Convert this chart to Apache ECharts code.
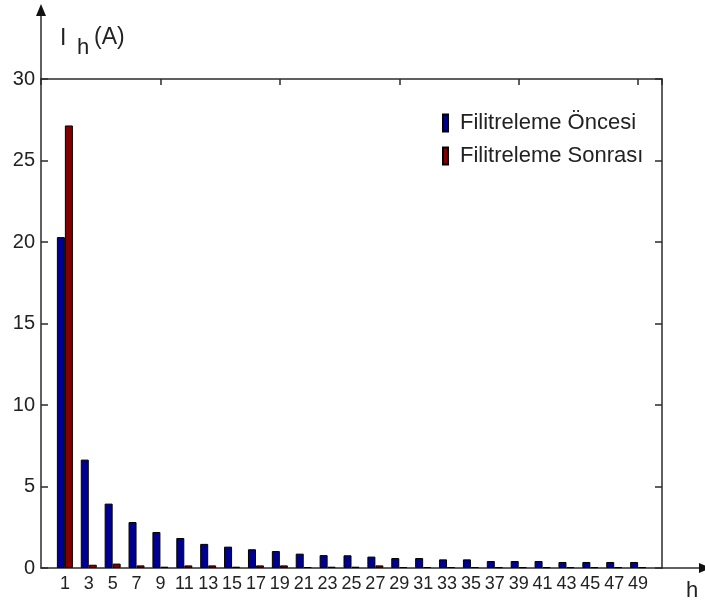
<!DOCTYPE html>
<html>
<head>
<meta charset="UTF-8">
<title>Ih (A)</title>
<script src="https://cdn.jsdelivr.net/npm/echarts@6/dist/echarts.min.js"></script>
<style>
  html, body { margin: 0; padding: 0; background: #fff; }
  #chart { width: 705px; height: 604px; }
</style>
</head>
<body>
<div id="chart"></div>
<script>
// harmonik numaralari (x ekseni etiketleri)
var harmonics = [1, 3, 5, 7, 9, 11, 13, 15, 17, 19, 21, 23, 25, 27, 29, 31, 33, 35, 37, 39, 41, 43, 45, 47, 49];
var seriesNames = ['Filitreleme Öncesi', 'Filitreleme Sonrası'];
// akim degerleri (A)
var oncesi = [20.3, 6.65, 3.95, 2.82, 2.21, 1.84, 1.48, 1.31, 1.15, 1.04, 0.88, 0.79, 0.78, 0.70, 0.61, 0.61, 0.53, 0.53, 0.43, 0.43, 0.43, 0.37, 0.37, 0.37, 0.37];
var sonrasi = [27.15, 0.2, 0.27, 0.16, 0.08, 0.16, 0.16, 0.08, 0.16, 0.16, 0.06, 0.08, 0.08, 0.16, 0.06, 0.06, 0.06, 0.06, 0.05, 0.05, 0.05, 0.05, 0.05, 0.05, 0.05];
var yTicks = [0, 5, 10, 15, 20, 25, 30];

var FONT = "'Liberation Sans', Arial, sans-serif";
var AXIS = '#2b2b2b';
var G = { left: 41, top: 79, right: 43, bottom: 36 };
var W = 705, H = 604;
var x0 = G.left, yb = H - G.bottom, xr = W - G.right;

function pairs(arr) {
	return arr.map(function (v, i) { return [i + 1, v]; });
}

var chart = echarts.init(document.getElementById('chart'));
var op = {
	animation: false,
	backgroundColor: '#fff',
	textStyle: { fontFamily: FONT },
	grid: { left: G.left, top: G.top, right: G.right, bottom: G.bottom },
	legend: {
		orient: 'vertical',
		left: 437,
		top: 107,
		icon: 'rect',
		itemWidth: 5,
		itemHeight: 17,
		itemGap: 11,
		data: seriesNames,
		textStyle: { fontSize: 22, color: '#222', fontFamily: FONT, padding: [0, 0, 0, 7] }
	},
	xAxis: [{
		type: 'value',
		min: 0,
		max: harmonics.length + 1,
		interval: 1,
		position: 'bottom',
		splitLine: { show: false },
		axisTick: { show: false },
		axisLine: { show: true, onZero: false, lineStyle: { color: AXIS, width: 1.5 } },
		axisLabel: {
			margin: 7,
			fontSize: 18,
			color: '#222',
			fontFamily: FONT,
			formatter: function (v) { return harmonics[v - 1] !== undefined ? String(harmonics[v - 1]) : ''; }
		}
	}, {
		type: 'value',
		min: 0,
		max: harmonics.length + 1,
		interval: 5,
		position: 'top',
		splitLine: { show: false },
		axisTick: { show: true, inside: true, length: 6, lineStyle: { color: AXIS, width: 1.5 } },
		axisLine: { show: true, onZero: false, lineStyle: { color: AXIS, width: 1.5 } },
		axisLabel: { show: false }
	}],
	yAxis: [{
		type: 'value',
		min: yTicks[0],
		max: yTicks[yTicks.length - 1],
		interval: 5,
		splitLine: { show: false },
		axisTick: { show: true, inside: true, length: 7, lineStyle: { color: AXIS, width: 1.5 } },
		axisLine: { show: true, onZero: false, lineStyle: { color: AXIS, width: 1.5 } },
		axisLabel: { margin: 6, fontSize: 20, color: '#222', fontFamily: FONT }
	}, {
		type: 'value',
		position: 'right',
		min: yTicks[0],
		max: yTicks[yTicks.length - 1],
		interval: 5,
		splitLine: { show: false },
		axisTick: { show: true, inside: true, length: 7, lineStyle: { color: AXIS, width: 1.5 } },
		axisLine: { show: true, onZero: false, lineStyle: { color: AXIS, width: 1.5 } },
		axisLabel: { show: false }
	}],
	series: [{
		name: seriesNames[0],
		type: 'bar',
		barWidth: 8,
		barGap: '0%',
		data: pairs(oncesi),
		itemStyle: { color: '#00008f', borderColor: '#000', borderWidth: 1 }
	}, {
		name: seriesNames[1],
		type: 'bar',
		barWidth: 8,
		barGap: '0%',
		data: pairs(sonrasi),
		itemStyle: { color: '#800000', borderColor: '#000', borderWidth: 1 }
	}],
	graphic: [
		// y ekseni uzantisi + ok
		{ type: 'line', shape: { x1: x0, y1: G.top, x2: x0, y2: 14 }, style: { stroke: AXIS, lineWidth: 1.5 } },
		{ type: 'polygon', shape: { points: [[x0, 4], [x0 - 5, 16], [x0 + 5, 16]] }, style: { fill: '#111' } },
		// x ekseni uzantisi + ok
		{ type: 'line', shape: { x1: xr, y1: yb, x2: 700, y2: yb }, style: { stroke: AXIS, lineWidth: 1.5 } },
		{ type: 'polygon', shape: { points: [[711, yb], [699, yb - 5], [699, yb + 5]] }, style: { fill: '#111' } },
		// eksen adlari
		{ type: 'text', left: 60, top: 27, style: { text: 'I', font: '23px ' + FONT, fill: '#222' } },
		{ type: 'text', left: 77, top: 37, style: { text: 'h', font: '22px ' + FONT, fill: '#222' } },
		{ type: 'text', left: 94, top: 26, style: { text: '(A)', font: '23px ' + FONT, fill: '#222' } },
		{ type: 'text', left: 686, top: 580, style: { text: 'h', font: '22px ' + FONT, fill: '#222' } }
	]
};
chart.setOption(op);
</script>
</body>
</html>
